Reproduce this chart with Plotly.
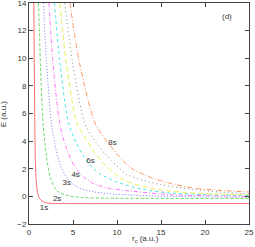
import plotly.graph_objects as go

# r_c values (a.u.) and energies E (a.u.)
r_1s = [0.55, 0.6, 0.66, 0.72, 0.8, 0.9, 1.0, 1.2, 1.5, 2.0, 2.8, 4.0, 25]
e_1s = [14, 9.6, 5.3, 2.6, 1.3, 0.6, 0.2, -0.15, -0.35, -0.47, -0.51, -0.52, -0.52]

r_2s = [1.08, 1.3, 1.6, 1.98, 2.4, 3.1, 4.2, 6.0, 9, 16, 25]
e_2s = [14, 9.6, 5.3, 2.9, 1.42, 0.45, 0.09, -0.08, -0.13, -0.15, -0.16]

r_3s = [1.65, 2.0, 2.55, 2.92, 3.5, 4.25, 5.4, 7.3, 10, 16, 25]
e_3s = [14, 9.6, 5.3, 3.84, 2.39, 1.42, 0.7, 0.33, 0.15, 0.0, -0.07]

r_4s = [2.27, 2.73, 3.49, 4.06, 4.8, 5.76, 7.27, 9.2, 11.1, 16, 20, 25]
e_4s = [14, 9.6, 5.3, 3.84, 2.63, 1.66, 0.94, 0.57, 0.42, 0.12, 0.05, 0.0]

r_5s = [2.9, 3.52, 4.5, 5.4, 6.5, 8.0, 9.9, 11.1, 13, 16, 20, 25]
e_5s = [14, 9.6, 5.3, 3.84, 2.63, 1.66, 1.06, 0.81, 0.5, 0.25, 0.13, 0.06]

r_6s = [3.5, 4.25, 5.45, 6.33, 7.4, 8.6, 10, 11.1, 13, 16, 20, 25]
e_6s = [14, 9.6, 5.3, 4.32, 3.2, 2.3, 1.5, 1.1, 0.7, 0.38, 0.2, 0.11]

r_7s = [4.07, 4.97, 6.33, 7.3, 8.6, 10, 11.1, 13, 15, 18.7, 22, 25]
e_7s = [14, 9.6, 5.3, 4.2, 3.1, 2.2, 1.6, 1.15, 0.85, 0.5, 0.3, 0.18]

r_8s = [4.65, 5.76, 7.5, 8.6, 10.1, 11.1, 12, 13.9, 16, 18.7, 22.5, 25]
e_8s = [14, 9.6, 5.3, 4.2, 3.0, 2.3, 1.9, 1.35, 0.95, 0.6, 0.4, 0.32]

state_names = ["1s", "2s", "3s", "4s", "5s", "6s", "7s", "8s"]
label_names = ["1s", "2s", "3s", "4s", "6s", "8s"]
label_r = [1.7, 3.2, 4.3, 5.3, 7.0, 9.5]
label_e = [-0.85, -0.22, 0.94, 1.54, 2.55, 3.84]

x_ticks = [0, 5, 10, 15, 20, 25]
y_ticks = [-2, 0, 2, 4, 6, 8, 10, 12, 14]

series_r = [r_1s, r_2s, r_3s, r_4s, r_5s, r_6s, r_7s, r_8s]
series_e = [e_1s, e_2s, e_3s, e_4s, e_5s, e_6s, e_7s, e_8s]
colors = ["#ff7070", "#66dd66", "#7777ff", "#ff77ff", "#44e4e4", "#eeee55", "#888888", "#ff9966"]
dashes = ["solid", "3px,2px", "1px,2px", "4px,2px,1px,2px", "3px,3px", "5px,3px", "1px,3px", "5px,2px,1px,2px"]

FONT = "Liberation Sans"
TXT = "#333333"

fig = go.Figure()
for name, xs, ys, c, d in zip(state_names, series_r, series_e, colors, dashes):
    fig.add_trace(go.Scatter(x=xs, y=ys, mode="lines", name=name,
                             line=dict(color=c, width=1, dash=d, shape="spline", smoothing=0.8),
                             showlegend=False))

fig.add_trace(go.Scatter(x=label_r, y=label_e, mode="text", text=label_names,
                         textfont=dict(size=8, color=TXT, family=FONT),
                         showlegend=False))

fig.add_annotation(x=22.5, y=13.0, text="(d)", showarrow=False,
                   font=dict(size=8, color=TXT, family=FONT))
fig.add_annotation(xref="paper", yref="paper", x=0.53, y=-0.07, yanchor="middle",
                   text="r<sub>c</sub> (a.u.)", showarrow=False,
                   font=dict(size=8, color=TXT, family=FONT))
fig.add_annotation(xref="paper", yref="paper", x=-0.115, y=0.5, xanchor="center",
                   text="E (a.u.)", textangle=-90, showarrow=False,
                   font=dict(size=8, color=TXT, family=FONT))

axis_common = dict(showline=True, linecolor="#444444", linewidth=1, mirror="ticks",
                   ticks="inside", ticklen=4, tickcolor="#444444", showgrid=False,
                   zeroline=False, automargin=False, ticklabeloverflow="allow",
                   tickfont=dict(size=8, color=TXT, family=FONT))

fig.update_xaxes(range=[0, 25], tickvals=x_ticks, **axis_common)
fig.update_yaxes(range=[-2, 14], tickvals=y_ticks, **axis_common)

fig.update_layout(width=255, height=247, margin=dict(l=29, r=6, t=3, b=23),
                  paper_bgcolor="white", plot_bgcolor="white")

fig.write_html("out.html", config={"displayModeBar": False},
               post_script="document.body.style.margin='0';document.body.style.padding='0';")
